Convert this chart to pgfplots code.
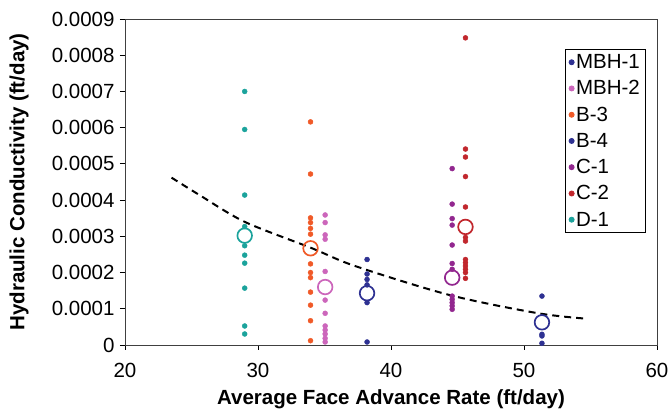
\documentclass[border=0pt]{standalone}
\usepackage{pgfplots}
\pgfplotsset{compat=1.18}
\usepackage{fontspec}
\setmainfont{Liberation Sans}
\definecolor{cMBHone}{HTML}{2E3192}
\definecolor{cMBHtwo}{HTML}{CC66BB}
\definecolor{cBthree}{HTML}{F05A28}
\definecolor{cBfour}{HTML}{2E3192}
\definecolor{cCone}{HTML}{92278F}
\definecolor{cCtwo}{HTML}{C1272D}
\definecolor{cDone}{HTML}{1BA39C}

\pgfplotsset{
  dots/.style={only marks, mark=*, mark size=2.5pt, color=#1, fill=#1, draw=none},
  mean/.style={only marks, mark=o, mark size=7.3pt, color=#1, line width=1.7pt, forget plot},
}

\begin{document}
\begin{tikzpicture}
\useasboundingbox (-125pt,-69pt) rectangle (545pt,345pt);
\begin{axis}[
    scale only axis, width=532pt, height=326pt,
    xmin=20, xmax=60, ymin=0, ymax=0.0009,
    xtick={20,30,40,50,60},
    ytick={0,0.0001,0.0002,0.0003,0.0004,0.0005,0.0006,0.0007,0.0008,0.0009},
    yticklabels={0,0.0001,0.0002,0.0003,0.0004,0.0005,0.0006,0.0007,0.0008,0.0009},
    scaled y ticks=false,
    tick align=outside, major tick length=5pt,
    xtick pos=bottom, ytick pos=left,
    axis line style={black!75, line width=0.9pt},
    tick style={black, line width=0.9pt},
    /pgf/number format/assume math mode=true,
    tick label style={font=\fontsize{20.5}{24}\selectfont},
    xticklabel style={yshift=-10pt},
    yticklabel style={xshift=-2pt},
    xlabel={Average Face Advance Rate (ft/day)},
    ylabel={Hydraulic Conductivity (ft/day)},
    xlabel style={font=\fontsize{20.5}{24}\selectfont\bfseries, at={(axis description cs:0.5,0)}, anchor=center, yshift=-54pt},
    ylabel style={font=\fontsize{20.5}{24}\selectfont\bfseries, at={(axis description cs:0,0.5)}, anchor=center, yshift=106pt},
    legend style={at={(rel axis cs:0.98,0.908)}, anchor=north east, draw=black, line width=0.9pt,
                  fill=white, font=\fontsize{20.5}{24}\selectfont, row sep=6.5pt,
                  inner xsep=4pt, inner ysep=3pt},
    legend cell align=left,
    legend image code/.code={\draw[#1, mark repeat=1] plot coordinates {(3pt,0pt)};},
    clip=false,
  ]
  % trend line
  \addplot[black, line width=2pt, dash pattern=on 7pt off 5pt, smooth, forget plot] coordinates {
    (23.5,0.000462) (25.6,0.000414) (29,0.000340) (34,0.000268) (37.3,0.000218)
    (44.4,0.000138) (51,0.000088) (54.7,0.0000726)};

  \addplot[dots=cMBHone] coordinates {
    (38.2,0.000236) (38.2,0.000196) (38.2,0.000181) (38.2,0.000166) (38.2,0.000117) (38.2,0.0000083)};
  \addlegendentry{MBH-1}
  \addplot[dots=cMBHtwo] coordinates {
    (35.05,0.000359) (35.05,0.000338) (35.05,0.000304) (35.05,0.000292) (35.05,0.000203)
    (35.05,0.000124) (35.05,0.0000875) (35.05,0.0000525) (35.05,0.0000414) (35.05,0.0000304)
    (35.05,0.0000184) (35.05,0.0000083)};
  \addlegendentry{MBH-2}
  \addplot[dots=cBthree] coordinates {
    (33.95,0.000616) (33.95,0.000472) (33.95,0.000351) (33.95,0.000338) (33.95,0.000322)
    (33.95,0.000306) (33.95,0.000224) (33.95,0.0002) (33.95,0.000186) (33.95,0.000146)
    (33.95,0.00011) (33.95,0.000067) (33.95,0.0000119)};
  \addlegendentry{B-3}
  \addplot[dots=cBfour] coordinates {
    (51.35,0.000135) (51.35,0.0000295) (51.35,0.000025) (51.35,0.0000047)};
  \addlegendentry{B-4}
  \addplot[dots=cCone] coordinates {
    (44.6,0.000487) (44.6,0.000389) (44.6,0.000349) (44.6,0.000331) (44.6,0.000276)
    (44.6,0.000225) (44.6,0.000209) (44.6,0.000135) (44.6,0.000126) (44.6,0.000117)
    (44.6,0.000108) (44.6,0.0000985)};
  \addlegendentry{C-1}
  \addplot[dots=cCtwo] coordinates {
    (45.6,0.000848) (45.6,0.000541) (45.6,0.000519) (45.6,0.000465) (45.6,0.000381)
    (45.6,0.000297) (45.6,0.000287) (45.6,0.000236) (45.6,0.000227) (45.6,0.000218)
    (45.6,0.000209) (45.6,0.0002) (45.6,0.000184)};
  \addlegendentry{C-2}
  \addplot[dots=cDone] coordinates {
    (29,0.0007) (29,0.000595) (29,0.000414) (29,0.000327) (29,0.000274) (29,0.000248)
    (29,0.000226) (29,0.000157) (29,0.0000525) (29,0.0000304)};
  \addlegendentry{D-1}

  % mean values
  \addplot[mean=cMBHone] coordinates {(38.2,0.000143)};
  \addplot[mean=cMBHtwo] coordinates {(35.05,0.00016)};
  \addplot[mean=cBthree] coordinates {(33.95,0.000267)};
  \addplot[mean=cBfour] coordinates {(51.35,0.0000626)};
  \addplot[mean=cCone] coordinates {(44.6,0.000186)};
  \addplot[mean=cCtwo] coordinates {(45.6,0.000326)};
  \addplot[mean=cDone] coordinates {(29,0.000302)};
\end{axis}
\end{tikzpicture}
\end{document}
